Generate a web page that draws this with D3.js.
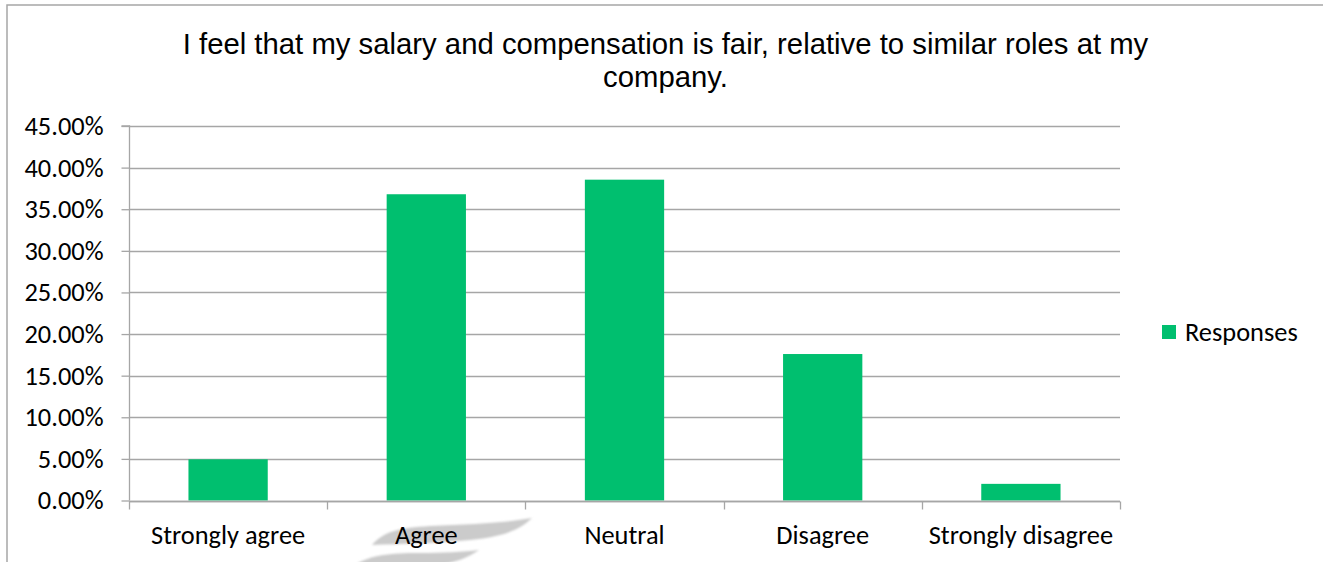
<!DOCTYPE html>
<html>
<head>
<meta charset="utf-8">
<script src="https://cdn.jsdelivr.net/npm/d3@7/dist/d3.min.js"></script>
<style>
  html, body { margin: 0; padding: 0; background: #ffffff; }
  svg { display: block; }
</style>
</head>
<body>
<svg id="chart" width="1323" height="562"></svg>
<script>
// Survey question results
const titleLines = [
  "I feel that my salary and compensation is fair, relative to similar roles at my",
  "company."
];
const categories = ["Strongly agree", "Agree", "Neutral", "Disagree", "Strongly disagree"];
const responses = [0.0495, 0.368, 0.3855, 0.176, 0.020];
const yTicks = [0, 0.05, 0.10, 0.15, 0.20, 0.25, 0.30, 0.35, 0.40, 0.45];
const seriesName = "Responses";

const W = 1323, H = 562;
const plot = { left: 129, right: 1120, top: 126, bottom: 500.5 };
const barColor = "#00bf6f";
const gridColor = "#a6a6a6";
const labelFont = "Carlito, Calibri, Lato, sans-serif";
const labelSize = 26.4;

const svg = d3.select("#chart");

// chart frame
svg.append("rect")
  .attr("x", 7).attr("y", 5)
  .attr("width", W + 20).attr("height", H + 20)
  .attr("fill", "#ffffff")
  .attr("stroke", "#a6a6a6")
  .attr("stroke-width", 1.5);

// faint grey swoosh marks below the axis
const defs = svg.append("defs");
defs.append("filter").attr("id", "soft")
  .append("feGaussianBlur").attr("stdDeviation", 1.2);
const swoosh = svg.append("g").attr("filter", "url(#soft)").attr("fill", "#cbcbcb");
swoosh.append("path")
  .attr("d", "M372,545 C384,531 400,528 430,526 C470,524 505,523 532,518 C519,531 500,537 470,540 C440,543 400,544 372,545 Z");
swoosh.append("path")
  .attr("d", "M355,565 C370,555 390,553 420,553 C445,553 462,552 479,550 C468,558 455,562 440,565 Z");

// title
svg.append("text")
  .attr("x", 665.5).attr("y", 54)
  .attr("text-anchor", "middle")
  .attr("font-family", "'Liberation Sans', Arial, sans-serif")
  .attr("font-size", 29.3)
  .attr("fill", "#000")
  .selectAll("tspan")
  .data(titleLines)
  .join("tspan")
  .attr("x", 665.5)
  .attr("dy", (d, i) => i === 0 ? 0 : 33)
  .text(d => d);

const x = d3.scaleBand()
  .domain(categories)
  .range([plot.left, plot.right])
  .paddingInner(0.6)
  .paddingOuter(0.3);

const xEdge = d3.scaleBand()
  .domain(categories)
  .range([plot.left, plot.right]);

const y = d3.scaleLinear()
  .domain([0, 0.45])
  .range([plot.bottom, plot.top]);

// horizontal gridlines
svg.append("g")
  .selectAll("line")
  .data(yTicks)
  .join("line")
  .attr("x1", plot.left).attr("x2", plot.right)
  .attr("y1", d => Math.round(y(d)) + 0.5).attr("y2", d => Math.round(y(d)) + 0.5)
  .attr("stroke", gridColor)
  .attr("stroke-width", 1.3);

// y axis
const yAxis = d3.axisLeft(y)
  .tickValues(yTicks)
  .tickSize(8)
  .tickPadding(18)
  .tickFormat(d => (d * 100).toFixed(2) + "%");

const gy = svg.append("g")
  .attr("transform", `translate(${plot.left + 0.5},0)`)
  .call(yAxis);
gy.select(".domain").attr("stroke", gridColor).attr("stroke-width", 1.3)
  .attr("d", `M-8,${plot.top}H0V${plot.bottom}`);
gy.selectAll(".tick line").attr("stroke", gridColor).attr("stroke-width", 1.3);
gy.selectAll(".tick text")
  .attr("font-family", labelFont)
  .attr("font-size", labelSize)
  .attr("fill", "#000");

// bars
svg.append("g")
  .selectAll("rect")
  .data(categories.map((c, i) => ({ c, v: responses[i] })))
  .join("rect")
  .attr("x", d => x(d.c))
  .attr("width", x.bandwidth())
  .attr("y", d => y(d.v))
  .attr("height", d => y(0) - y(d.v))
  .attr("fill", barColor);

// x axis
const xAxis = d3.axisBottom(xEdge)
  .tickSize(0)
  .tickPadding(0);
const gx = svg.append("g")
  .attr("transform", `translate(0,${Math.round(plot.bottom) + 0.5})`)
  .call(xAxis);
gx.select(".domain").attr("stroke", gridColor).attr("stroke-width", 1.3)
  .attr("d", `M${plot.left},0H${plot.right}`);
gx.selectAll(".tick line").remove();
gx.selectAll(".tick text")
  .attr("dy", null)
  .attr("y", 42)
  .attr("font-family", labelFont)
  .attr("font-size", labelSize)
  .attr("fill", "#000");

// category boundary tick marks
const edges = categories.map(c => xEdge(c)).concat([plot.right]);
gx.append("g")
  .selectAll("line")
  .data(edges)
  .join("line")
  .attr("x1", d => Math.round(d) + 0.5).attr("x2", d => Math.round(d) + 0.5)
  .attr("y1", 0).attr("y2", 8)
  .attr("stroke", gridColor)
  .attr("stroke-width", 1.3);

// legend
const legend = svg.append("g").attr("transform", "translate(1162,325)");
legend.append("rect")
  .attr("width", 14).attr("height", 14)
  .attr("fill", barColor);
legend.append("text")
  .attr("x", 23).attr("y", 7)
  .attr("dominant-baseline", "central")
  .attr("font-family", labelFont)
  .attr("font-size", labelSize)
  .attr("fill", "#000")
  .text(seriesName);
</script>
</body>
</html>
